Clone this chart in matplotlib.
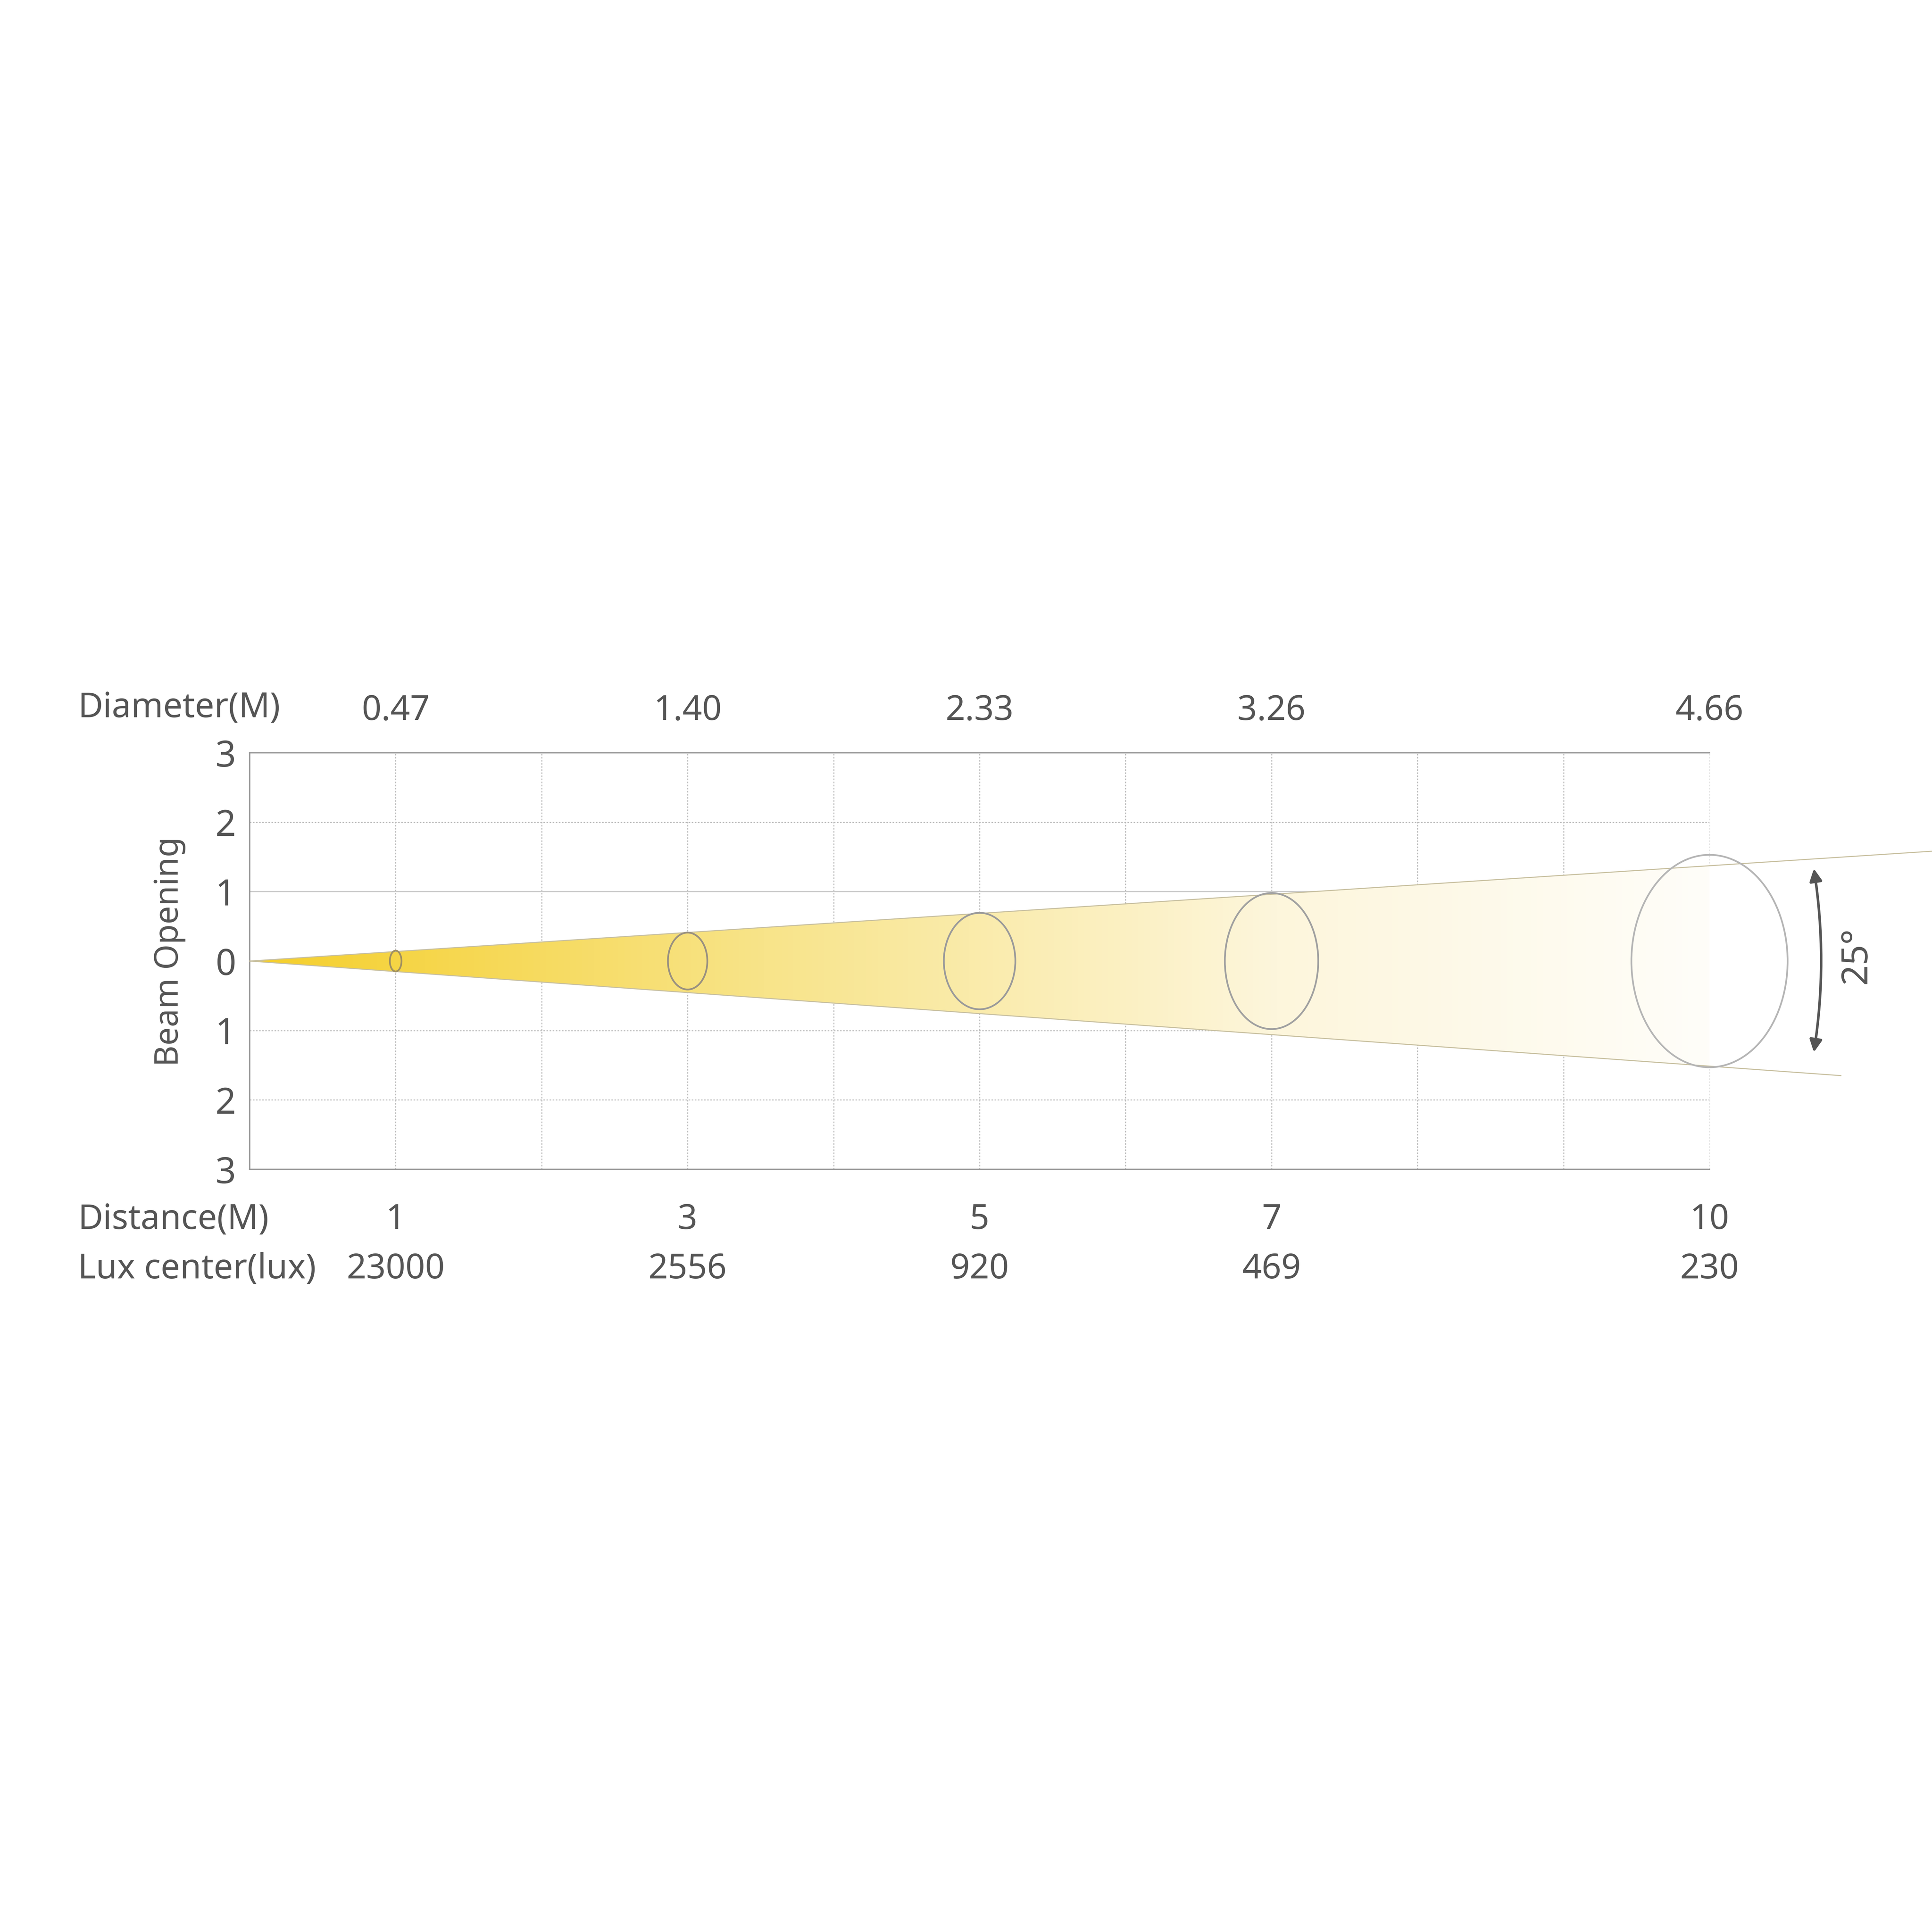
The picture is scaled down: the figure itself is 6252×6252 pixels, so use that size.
import numpy as np
import matplotlib
matplotlib.use("Agg")
import matplotlib.pyplot as plt
from matplotlib.patches import Ellipse, Polygon, FancyArrowPatch
from matplotlib.colors import LinearSegmentedColormap

plt.rcParams['font.family'] = ['Noto Sans', 'DejaVu Sans']

distances = [1, 3, 5, 7, 10]
diameters = ["0.47", "1.40", "2.33", "3.26", "4.66"]
lux = ["23000", "2556", "920", "469", "230"]
ell_w = [0.08, 0.27, 0.49, 0.64, 1.07]
ell_h = [0.30, 0.82, 1.39, 1.96, 3.06]
ytick_labels = ["3", "2", "1", "0", "1", "2", "3"]
angle_label = "25°"

W = 1563.0
fig = plt.figure(figsize=(15.63, 15.63), dpi=400)
ax = fig.add_axes([202 / W, 1 - 946 / W, (1383 - 202) / W, (946 - 609) / W])
ax.set_xlim(0, 10)
ax.set_ylim(-3, 3)
txt = '#555555'
grid = '#bbbbbb'

for x in range(1, 11):
    ax.axvline(x, color=grid, lw=0.6, ls=(0, (1.5, 1.5)), zorder=1)
for y in [-2, -1, 0, 2]:
    ax.axhline(y, color=grid, lw=0.6, ls=(0, (1.5, 1.5)), zorder=1)
ax.axhline(1, color='#cccccc', lw=0.7, zorder=1)

ax.spines['right'].set_visible(False)
for s in ['left', 'bottom', 'top']:
    ax.spines[s].set_color('#999999')
    ax.spines[s].set_linewidth(0.8)
ax.set_xticks([])
ax.set_yticks(range(3, -4, -1))
ax.set_yticklabels(ytick_labels, fontsize=21, color=txt)
ax.tick_params(axis='y', length=0, pad=8)

up_end = (11.8, 1.62)
lo_end = (10.9, -1.65)
poly = Polygon([(0, 0), up_end, lo_end], closed=True, facecolor='none',
               edgecolor='none', transform=ax.transData)
ax.add_patch(poly)
cmap = LinearSegmentedColormap.from_list('b', ['#f5cf2a', '#f8e48a', '#fdf6dc', '#ffffff'])
grad = np.linspace(0, 1, 512).reshape(1, -1)
im = ax.imshow(grad, extent=[0, 10.6, -2, 2], aspect='auto', cmap=cmap,
               zorder=2, clip_on=True)
im.set_clip_path(poly)
ax.plot([0, up_end[0]], [0, up_end[1]], color='#c8c0a0', lw=0.6, clip_on=False, zorder=3)
ax.plot([0, lo_end[0]], [0, lo_end[1]], color='#c8c0a0', lw=0.6, clip_on=False, zorder=3)

ecols = ['#a09060', '#999080', '#9a9a9a', '#a0a0a0', '#b5b5b5']
for x, w, h, c in zip(distances, ell_w, ell_h, ecols):
    ax.add_patch(Ellipse((x, 0), w, h, facecolor='none', edgecolor=c, lw=1.0,
                         clip_on=False, zorder=4))

for x, d in zip(distances, diameters):
    ax.text(x, 3.6, d, ha='center', va='center', fontsize=20, color=txt)
for x, d, l in zip(distances, distances, lux):
    ax.text(x, -3.73, str(d), ha='center', va='center', fontsize=20, color=txt)
    ax.text(x, -4.44, l, ha='center', va='center', fontsize=20, color=txt)

fig.text(63 / W, 1 - 573 / W, "Diameter(M)", ha='left', va='center', fontsize=20, color=txt)
fig.text(63 / W, 1 - 987 / W, "Distance(M)", ha='left', va='center', fontsize=20, color=txt)
fig.text(63 / W, 1 - 1027 / W, "Lux center(lux)", ha='left', va='center', fontsize=20, color=txt)
fig.text(137 / W, 1 - 770 / W, "Beam Opening", ha='center', va='center', rotation=90,
         fontsize=19, color=txt)
fig.text(1502 / W, 1 - 773 / W, angle_label, ha='center', va='center', rotation=90,
         fontsize=21, color=txt)

arr = FancyArrowPatch((1467 / W, 1 - 700 / W), (1467 / W, 1 - 854 / W),
                      transform=fig.transFigure, connectionstyle="arc3,rad=-0.08",
                      arrowstyle='<|-|>,head_length=6,head_width=3', color='#555555', lw=1.5)
fig.patches.append(arr)

fig.savefig('out.png', dpi=400, facecolor='white')
